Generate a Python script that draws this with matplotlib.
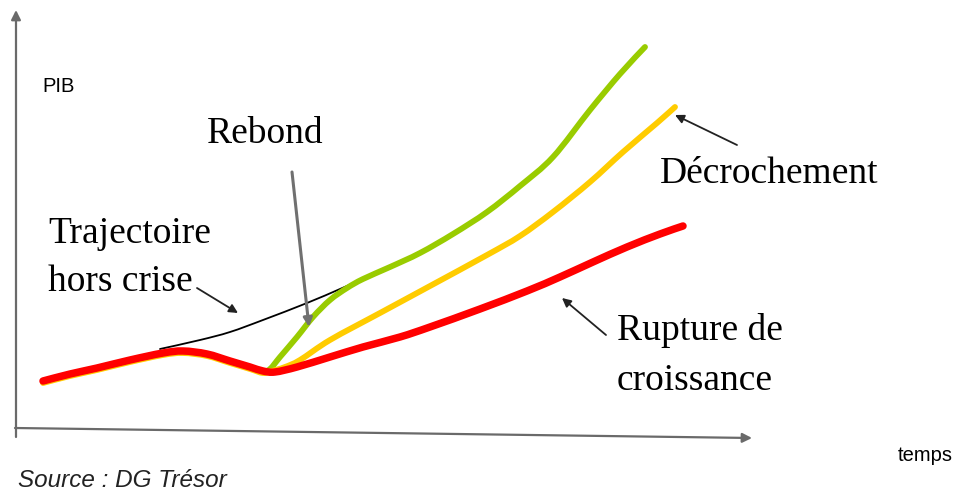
import matplotlib.pyplot as plt
from matplotlib.path import Path
from matplotlib.patches import PathPatch

# schematic, in image pixel units (x right, y down)
common_x = [43, 70, 97, 130, 163, 183, 207, 230, 250, 263]
common_y = [381, 374, 368, 360, 353, 351, 354, 361, 367, 371]

green_x = [270, 280, 297, 313, 330, 347, 363, 390, 420, 453, 487, 520, 553, 590, 620, 645]
green_y = [369, 357, 337, 317, 300, 288, 279, 267, 253, 234, 212, 186, 157, 110, 74, 47]

yellow_x = [272, 285, 300, 330, 380, 430, 487, 520, 553, 590, 623, 657, 675]
yellow_y = [371, 367, 360, 340, 313, 286, 255, 236, 212, 182, 152, 123, 107]

red_x = [275, 297, 330, 363, 400, 430, 480, 527, 560, 593, 627, 660, 683]
red_y = [372, 367, 357, 347, 337, 327, 309, 291, 277, 262, 247, 234, 226]

trend_x = [160, 200, 230, 263, 307, 340, 365]
trend_y = [349, 340, 332, 320, 303, 289, 278]

GREEN = "#99cc00"
YELLOW = "#ffcc00"
RED = "#ff0000"


def smooth_path(xs, ys):
    # Catmull-Rom through the points, handed to matplotlib as cubic Beziers
    pts = list(zip(xs, ys))
    verts = [pts[0]]
    codes = [Path.MOVETO]
    for i in range(len(pts) - 1):
        p0 = pts[max(i - 1, 0)]
        p1 = pts[i]
        p2 = pts[i + 1]
        p3 = pts[min(i + 2, len(pts) - 1)]
        c1 = (p1[0] + (p2[0] - p0[0]) / 6, p1[1] + (p2[1] - p0[1]) / 6)
        c2 = (p2[0] - (p3[0] - p1[0]) / 6, p2[1] - (p3[1] - p1[1]) / 6)
        verts += [c1, c2, p2]
        codes += [Path.CURVE4] * 3
    return Path(verts, codes)


def curve(xs, ys, **kw):
    ax.add_patch(PathPatch(smooth_path(xs, ys), fill=False,
                           capstyle="round", joinstyle="round", **kw))


fig = plt.figure(figsize=(9.59, 4.91), dpi=100)
ax = fig.add_axes([0, 0, 1, 1])
ax.set_xlim(0, 959)
ax.set_ylim(491, 0)
ax.axis("off")

# axes drawn as arrows
axis_style = dict(arrowstyle="-|>", color="#6a6a6a", lw=1.6,
                  mutation_scale=14, shrinkA=0, shrinkB=0)
ax.annotate("", xy=(16, 10), xytext=(16, 437), arrowprops=axis_style)
ax.annotate("", xy=(752, 438), xytext=(15, 428), arrowprops=axis_style)

# curves
curve(trend_x, trend_y, edgecolor="black", lw=1.3, zorder=2)
curve(common_x + green_x, common_y + green_y, edgecolor=GREEN, lw=4.2, zorder=3)
curve(common_x + yellow_x, [y + 2 for y in common_y] + yellow_y,
      edgecolor=YELLOW, lw=4.2, zorder=4)
curve(common_x + red_x, common_y + red_y, edgecolor=RED, lw=5.4, zorder=5)

# labels
serif = dict(family="Liberation Serif", fontsize=27, color="black", va="baseline")
ax.text(207, 143, "Rebond", **serif)
ax.text(48, 243, "Trajectoire", **serif)
ax.text(48, 291, "hors crise", **serif)
ax.text(660, 183, "Décrochement", **serif)
ax.text(617, 340, "Rupture de", **serif)
ax.text(617, 390, "croissance", **serif)

sans = dict(family="Liberation Sans", fontsize=14.5, color="black", va="baseline")
ax.text(42, 92, "PIB", **sans)
ax.text(898, 461, "temps", **sans)
ax.text(18, 487, "Source : DG Trésor", family="Liberation Sans",
        style="italic", fontsize=17.5, color="#222222", va="baseline")

# pointers
ptr = dict(arrowstyle="-|>", color="#222222", lw=1.3, mutation_scale=13,
           shrinkA=0, shrinkB=0)
ax.annotate("", xy=(309, 327), xytext=(292, 172),
            arrowprops=dict(ptr, color="#707070", lw=2.2))
ax.annotate("", xy=(238, 313), xytext=(197, 288), arrowprops=ptr)
ax.annotate("", xy=(675, 115), xytext=(737, 145), arrowprops=ptr)
ax.annotate("", xy=(562, 298), xytext=(606, 335), arrowprops=ptr)

fig.savefig("out.png", dpi=100)
